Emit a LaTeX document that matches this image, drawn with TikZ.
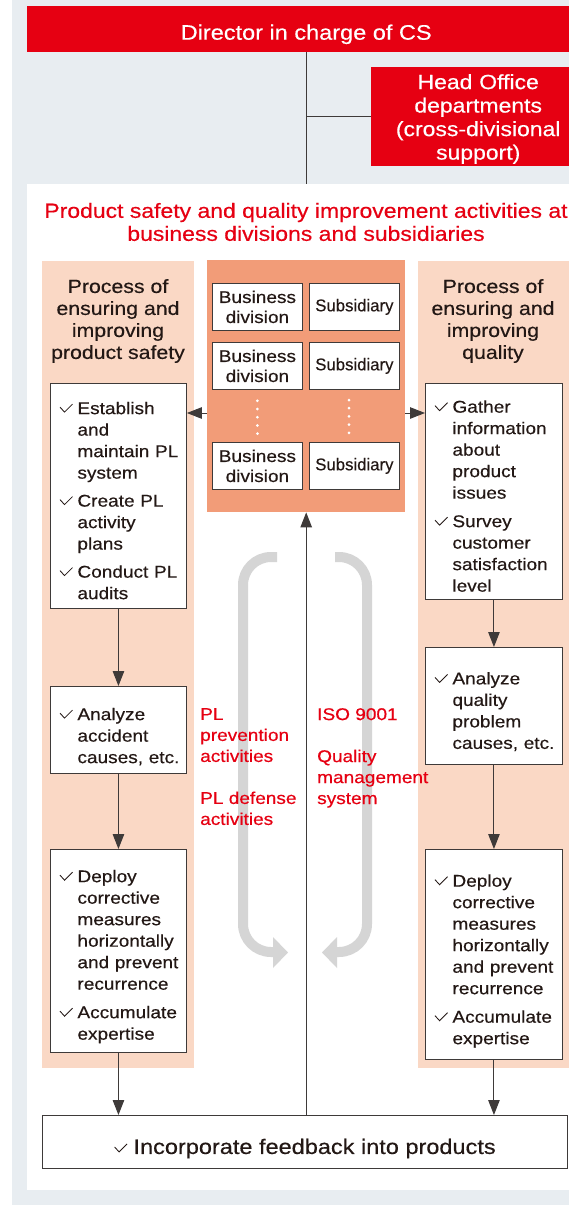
\documentclass[tikz,border=0pt]{standalone}
\usepackage{fontspec}
\setmainfont{Liberation Sans}[FakeStretch=1.12,FakeBold=0.4]
\newfontfamily\medfont{Liberation Sans}[FakeStretch=1.12,FakeBold=0.45]
\usetikzlibrary{arrows.meta}
\definecolor{bggrey}{HTML}{E8EDF1}
\definecolor{csred}{HTML}{E60012}
\definecolor{peach}{HTML}{FAD8C5}
\definecolor{coral}{HTML}{F29C78}
\definecolor{arcgrey}{HTML}{D5D5D5}
\definecolor{txt}{HTML}{231815}
\definecolor{ln}{HTML}{3E3A39}
\newcommand\tickmark{\tikz[baseline=0pt]\draw[txt, line width=0.85pt] (0pt,7pt) -- (4.5pt,2pt) -- (12.5pt,10pt);}
\newcommand\chk{\leavevmode\llap{\tickmark\hspace{4.5pt}}}
\newcommand\lsk[1]{\leftskip=27pt\relax\vskip#1\relax}
\begin{document}
\begin{tikzpicture}[x=1pt,y=-1pt,
  every node/.style={inner sep=0pt, text=txt},
  connector/.style={ln, line width=1pt},
  arr/.style={ln, line width=1pt, -{Triangle[length=15pt,width=11.5pt]}},
  redbox/.style={fill=csred, anchor=north west, text=white},
  panelbg/.style={anchor=north west, inner sep=0pt},
  bbox/.style={draw=ln, fill=white, line width=0.8pt, anchor=north west, minimum width=90pt, minimum height=47pt, align=center, font=\fontsize{17}{20}\selectfont},
  pbox/.style={draw=ln, fill=white, line width=0.9pt, anchor=north west, text width=#1, align=left, font=\fontsize{17}{21.5}\selectfont},
  heading/.style={align=center, font=\fontsize{19}{22}\selectfont},
  redlabel/.style={text=csred, anchor=north west, align=left, font=\medfont\fontsize{17}{21}\selectfont},
  garc/.style={arcgrey, line width=10pt, rounded corners=28pt}
]
\useasboundingbox (0,0) rectangle (569,1205);
\fill[white] (0,0) rectangle (12,1205);
\fill[bggrey] (12,0) rectangle (600,1205);
\node[panelbg, fill=white, minimum width=573pt, minimum height=1006pt] (panel) at (27,184) {};

% top management
\node[redbox, minimum width=558pt, minimum height=46pt, text height=21pt, text depth=0pt, font=\fontsize{21}{24}\selectfont] (dir) at (27,6) {Director in charge of CS};
\node[redbox, minimum width=214pt, minimum height=99pt, text width=214pt, align=center, font=\fontsize{20.5}{23.5}\selectfont] (ho) at (371,67) {\vskip-4pt Head Office\\departments\\(cross-divisional\\support)\par};
\draw[connector] (dir.south) -- (dir.south |- panel.north);
\draw[connector] (dir.south |- ho.west) -- (ho.west);

% title
\node[text=csred, align=center, font=\fontsize{20.5}{23}\selectfont] (title) at (306,222) {Product safety and quality improvement activities at\\business divisions and subsidiaries};

% column panels
\node[panelbg, fill=peach, minimum width=152pt, minimum height=807pt] (lp) at (42,261) {};
\node[panelbg, fill=peach, minimum width=182pt, minimum height=807pt] (rp) at (418,261) {};
\node[panelbg, fill=coral, minimum width=198pt, minimum height=252pt] (core) at (207,260) {};

\node[heading] (lh) at (118,321) {Process of\\ensuring and\\improving\\product safety};
\node[heading] (rh) at (493,321) {Process of\\ensuring and\\improving\\quality};

% business divisions / subsidiaries
\node[bbox] (b1) at (212,283) {Business\\division};
\node[bbox] (s1) at (309,283) {\scalebox{0.88}[1]{Subsidiary}};
\node[bbox] (b2) at (212,342) {Business\\division};
\node[bbox] (s2) at (309,342) {\scalebox{0.88}[1]{Subsidiary}};
\node[bbox] (b3) at (212,442) {Business\\division};
\node[bbox] (s3) at (309,442) {\scalebox{0.88}[1]{Subsidiary}};
\draw[white, line width=3pt, line cap=round, dash pattern=on 0pt off 8.2pt] (b2.south) ++(0,11) -- ++(0,34);
\draw[white, line width=3pt, line cap=round, dash pattern=on 0pt off 8.2pt] (349,400) -- (349,434);

% grey cycle arrows
\draw[garc] (277,557) -| (243,952) -- (274,952);
\fill[arcgrey] (273,937) -- (288,952.5) -- (273,968) -- cycle;
\draw[garc] (335,557) -| (367,952) -- (336,952);
\fill[arcgrey] (337,937) -- (322,952.5) -- (337,968) -- cycle;

% red labels
\node[redlabel] (pl) at (200,708) {PL\\prevention\\activities\\[21pt]PL defense\\activities};
\node[redlabel] (iso) at (317,708) {ISO 9001\\[21pt]Quality\\management\\system};

% left process
\node[pbox=136pt, minimum height=225pt] (L1) at (50,383) {\lsk{0pt}\chk Establish\\and\\maintain PL\\system\\[6.5pt]\chk Create PL\\activity\\plans\\[6.5pt]\chk Conduct PL\\audits\par};
\node[pbox=136pt, minimum height=87pt] (L2) at (50,686) {\lsk{4pt}\chk Analyze\\accident\\causes, etc.\par};
\node[pbox=136pt, minimum height=203pt] (L3) at (50,849) {\lsk{2pt}\chk Deploy\\corrective\\measures\\horizontally\\and prevent\\recurrence\\[7pt]\chk Accumulate\\expertise\par};

% right process
\node[pbox=137pt, minimum height=216pt] (R1) at (425,383) {\lsk{0pt}\chk Gather\\information\\about\\product\\issues\\[7pt]\chk Survey\\customer\\satisfaction\\level\par};
\node[pbox=137pt, minimum height=117pt] (R2) at (425,647) {\lsk{2pt}\chk Analyze\\quality\\problem\\causes, etc.\par};
\node[pbox=137pt, minimum height=210pt] (R3) at (425,849) {\lsk{4pt}\chk Deploy\\corrective\\measures\\horizontally\\and prevent\\recurrence\\[7pt]\chk Accumulate\\expertise\par};

% feedback
\node[draw=ln, fill=white, line width=0.9pt, anchor=north west, minimum width=525pt, minimum height=53pt, text height=24pt, text depth=0pt, font=\fontsize{21}{24}\selectfont] (fb) at (42,1115) {\tickmark\hspace{6pt}Incorporate feedback into products};

% connectors
\coordinate (ya) at (0,413);
\draw[arr] (core.west |- ya) -- (L1.east |- ya);
\draw[arr] (core.east |- ya) -- (R1.west |- ya);
\draw[arr] (L1) -- (L2);
\draw[arr] (L2) -- (L3);
\draw[arr] (L3.south) -- (L3.south |- fb.north);
\draw[arr] (R1) -- (R2);
\draw[arr] (R2) -- (R3);
\draw[arr] (R3.south) -- (R3.south |- fb.north);
\draw[arr] (fb.north -| core.south) -- (core.south);
\end{tikzpicture}
\end{document}
